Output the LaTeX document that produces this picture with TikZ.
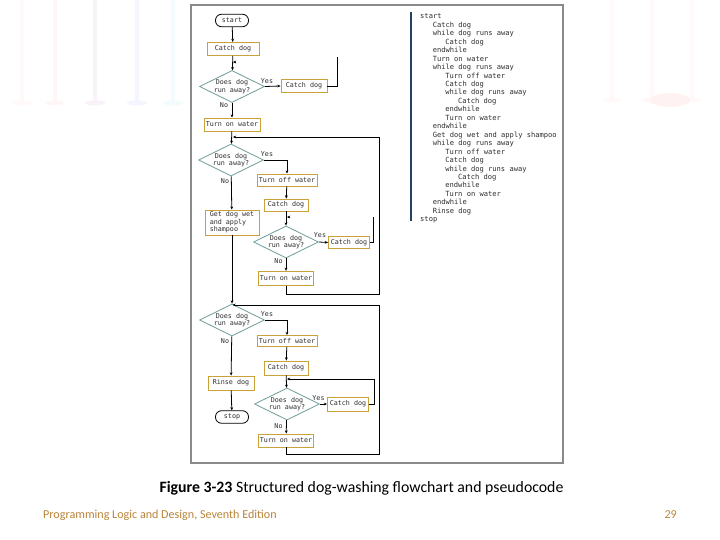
\documentclass[tikz,border=0pt]{standalone}
\usepackage{fontspec}
\setmainfont{Carlito}
\newfontfamily\monofam{DejaVu Sans Mono}
\usetikzlibrary{shapes.geometric,arrows.meta}
\newcommand\flowfnt{\monofam\fontsize{6.7pt}{7.4pt}\selectfont}
\newcommand\codefnt{\monofam\fontsize{7.1pt}{8pt}\selectfont}
\definecolor{boxgold}{HTML}{C9A23A}
\definecolor{diagteal}{HTML}{6E9C9C}
\definecolor{framegray}{HTML}{8A8A8A}
\definecolor{codeline}{HTML}{23425F}
\definecolor{txtgray}{HTML}{2E2E2E}
\definecolor{footgold}{HTML}{B9853A}
\tikzset{
  box/.style={draw=boxgold, line width=0.9pt, fill=white, inner sep=0pt,
    font=\flowfnt, text=txtgray, minimum height=13pt},
  term/.style={draw=black, line width=0.8pt, fill=white, rounded corners=6pt,
    inner sep=0pt, font=\flowfnt, text=txtgray, minimum width=33pt, minimum height=12.5pt},
  decis/.style={draw=diagteal, line width=0.8pt, fill=white, shape=diamond, aspect=2,
    inner sep=0pt, font=\flowfnt, text=txtgray, align=center,
    minimum width=65pt, minimum height=32pt},
  conn/.style={draw=black, line width=0.8pt},
  arr/.style={conn, -{Stealth[length=3.2pt,width=2.8pt]}},
  lbl/.style={font=\flowfnt, text=txtgray, inner sep=0pt},
  code/.style={font=\codefnt, text=txtgray, inner sep=0pt, anchor=base west},
  stem/.style={line width=4pt, line cap=round},
}
\begin{document}
\begin{tikzpicture}[x=1pt,y=-1pt]
\useasboundingbox (0,0) rectangle (720,540);
\fill[white] (0,0) rectangle (720,540);

% faint background decorations
\foreach \xx/\cc in {22/pink!9, 55/pink!12, 95/violet!5, 137/blue!4, 173/cyan!5}{
  \draw[stem, draw=\cc] (\xx,0) -- (\xx,100);
  \fill[\cc] (\xx,103) ellipse (10 and 2.5);
}
\foreach \xx/\cc in {612/pink!9, 652/pink!11, 692/pink!9}{
  \draw[stem, draw=\cc] (\xx,0) -- (\xx,96);
  \fill[\cc] (\xx,100) ellipse (10 and 2.5);
}
\fill[red!5] (670,100) ellipse (20 and 7);

% frame
\draw[framegray, line width=2pt, fill=white] (191,5) rectangle (563,463);

% ---------------- flowchart nodes
\node[term] (start) at (232,20.5) {start};
\node[box, minimum width=52pt] (c1) at (233,49) {Catch dog};
\node[decis] (d1) at (232,86.5) {Does dog\\run away?};
\node[box, minimum width=46pt] (c2) at (304,86) {Catch dog};
\node[box, minimum width=56pt] (w1) at (232,124.5) {Turn on water};

\node[decis, minimum height=30pt] (d2) at (231,160) {Does dog\\run away?};
\node[box, minimum width=60pt, minimum height=12pt] (off2) at (287,180) {Turn off water};
\node[box, minimum width=44pt, minimum height=12pt] (c3) at (286,205) {Catch dog};
\node[decis] (d3) at (286,242) {Does dog\\run away?};
\node[box, minimum width=41pt, minimum height=12pt] (c4) at (349,242.5) {Catch dog};
\node[box, minimum width=55pt, minimum height=14pt] (w3) at (286,278.3) {Turn on water};
\node[box, minimum width=54pt, minimum height=25pt, align=left] (g) at (232,222.5)
  {Get dog wet\\and apply\\shampoo};

\node[decis] (d4) at (232,320) {Does dog\\run away?};
\node[box, minimum width=60pt, minimum height=11pt] (off4) at (287,341) {Turn off water};
\node[box, minimum width=44pt, minimum height=14pt] (c5) at (286,368) {Catch dog};
\node[decis] (d5) at (287,404) {Does dog\\run away?};
\node[box, minimum width=41pt, minimum height=14pt] (c6) at (348,404) {Catch dog};
\node[box, minimum width=55pt, minimum height=13pt] (w5) at (286,440.5) {Turn on water};
\node[box, minimum width=46pt, minimum height=14pt] (rinse) at (231,383) {Rinse dog};
\node[term] (stop) at (232,417) {stop};

% labels
\node[lbl] (y1) at (267,81) {Yes};
\node[lbl] (y2) at (267,154.5) {Yes};
\node[lbl] (y3) at (320,235.5) {Yes};
\node[lbl] (y4) at (267,314.5) {Yes};
\node[lbl] (y5) at (318.5,398.5) {Yes};
\node[lbl] (n1) at (224,105) {No};
\node[lbl] (n2) at (225,181.5) {No};
\node[lbl] (n3) at (278.5,261.5) {No};
\node[lbl] (n4) at (225,341.5) {No};
\node[lbl] (n5) at (278.5,426) {No};

% coordinates
\coordinate (lp1top) at (337,57);
\coordinate (lp1a) at (236,62);
\coordinate (lp1b) at (233,62);
\coordinate (lp3top) at (373,217);
\coordinate (lp3a) at (290,217);
\coordinate (lp3b) at (287,217);
\coordinate (j2) at (232,137);
\coordinate (j4) at (232,305);
\coordinate (j5) at (287,379);

% ---------------- connectors
\draw[arr] (start) -- (c1);
\draw[arr] (c1) -- (d1);
\draw[arr] (d1.east) -- (c2.west);
\draw[conn] (c2.east) -- (lp1top |- c2.east) -- (lp1top);
\draw[arr] (lp1a) -- (lp1b);
\draw[arr] (d1) -- (w1);
\draw[arr] (w1) -- (d2);
\draw[arr] (d2.east) -| (off2.north);
\draw[arr] (off2) -- (c3);
\draw[arr] (c3) -- (d3);
\draw[arr] (d3.east) -- (c4.west);
\draw[conn] (c4.east) -- (lp3top |- c4.east) -- (lp3top);
\draw[arr] (lp3a) -- (lp3b);
\draw[arr] (d3) -- (w3);
\draw[arr] (w3.south) |- (379,294) -- (379,137) -- ([xshift=1pt]j2);
\draw[arr] (d2) -- (g);
\draw[arr] (g) -- (d4);
\draw[arr] (w5.south) |- (379,454) -- (379,305) -- ([xshift=0.5pt]j4);
\draw[arr] (d4.east) -| (off4.north);
\draw[arr] (off4) -- (c5);
\draw[arr] (c5) -- (d5);
\draw[arr] (d5.east) -- (c6.west);
\draw[arr] (c6.east) -- (374,404) -- (374,379) -- (j5);
\draw[arr] (d5) -- (w5);
\draw[arr] (d4) -- (rinse);
\draw[arr] (rinse) -- (stop);

% ---------------- pseudocode
\draw[codeline, line width=1.6pt] (411,12) -- (411,221);
\foreach \lev/\txt [count=\i from 0] in {
  0/start, 1/Catch dog, 1/while dog runs away, 2/Catch dog, 1/endwhile,
  1/Turn on water, 1/while dog runs away, 2/Turn off water, 2/Catch dog,
  2/while dog runs away, 3/Catch dog, 2/endwhile, 2/Turn on water, 1/endwhile,
  1/Get dog wet and apply shampoo, 1/while dog runs away, 2/Turn off water,
  2/Catch dog, 2/while dog runs away, 3/Catch dog, 2/endwhile, 2/Turn on water,
  1/endwhile, 1/Rinse dog, 0/stop}{
  \node[code] (p\i) at ({420+12.6*\lev}, {18.8+8.46*\i}) {\txt};
}

% ---------------- caption and footer
\node[font=\fontsize{15.8pt}{18pt}\selectfont, text=black, inner sep=0pt] (cap) at (361.5,488)
  {\textbf{Figure 3-23} Structured dog-washing flowchart and pseudocode};
\node[font=\fontsize{12.1pt}{14pt}\selectfont, text=footgold, anchor=west, inner sep=0pt] (foot) at (43,515)
  {Programming Logic and Design, Seventh Edition};
\node[font=\fontsize{12.1pt}{14pt}\selectfont, text=footgold, anchor=east, inner sep=0pt] (pg) at (677,515) {29};
\end{tikzpicture}
\end{document}
